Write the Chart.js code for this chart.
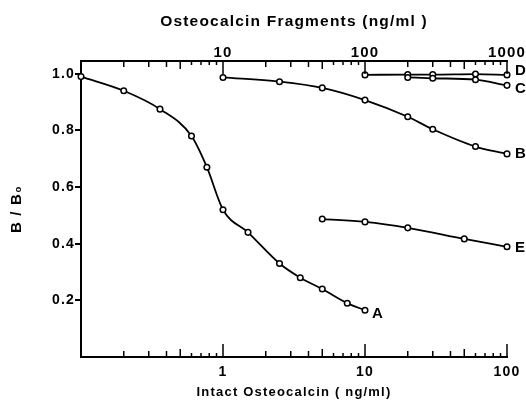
<!DOCTYPE html>
<html>
<head>
<meta charset="utf-8">
<script src="https://cdn.jsdelivr.net/npm/chart.js@4.4.1/dist/chart.umd.min.js"></script>
<style>
  html, body { margin: 0; padding: 0; background: #fff; }
</style>
</head>
<body>
<canvas id="grafico" width="526" height="408"></canvas>
<script>
// Curvas A e E: osteocalcina intacta (eixo inferior)
const doseA = [0.1, 0.2, 0.36, 0.6, 0.77, 1, 1.5, 2.5, 3.5, 5, 7.5, 10];
const valoresA = [0.99, 0.94, 0.875, 0.78, 0.67, 0.52, 0.44, 0.33, 0.28, 0.24, 0.19, 0.165];
const doseE = [5, 10, 20, 50, 100];
const valoresE = [0.487, 0.477, 0.456, 0.417, 0.389];

// Curvas B, C e D: fragmentos de osteocalcina (eixo superior)
const doseB = [10, 25, 50, 100, 200, 300, 600, 1000];
const valoresB = [0.987, 0.972, 0.95, 0.907, 0.848, 0.804, 0.743, 0.717];
const doseC = [200, 300, 600, 1000];
const valoresC = [0.987, 0.984, 0.979, 0.959];
const doseD = [100, 200, 300, 600, 1000];
const valoresD = [0.996, 0.997, 0.997, 0.999, 0.996];

const yMin = 0;
const yMax = 1.045;
const yPasso = 0.2;

const FONTE = "'Liberation Sans', Arial, sans-serif";

// Junta doses e valores em pontos {x, y}
function pontos(doses, valores) {
    return doses.map((x, i) => ({ x: x, y: valores[i] }));
}

function potenciaDeDez(v) {
    const l = Math.log10(v);
    return Math.abs(l - Math.round(l)) < 1e-9;
}

function serie(rotulo, doses, valores, eixo) {
    return {
        label: rotulo,
        data: pontos(doses, valores),
        xAxisID: eixo,
        borderColor: '#000',
        borderWidth: 1.8,
        cubicInterpolationMode: 'monotone',
        fill: false,
        clip: false,
        pointRadius: 2.8,
        pointBackgroundColor: '#fff',
        pointBorderColor: '#000',
        pointBorderWidth: 1.5
    };
}

// Marcas 1..9 de cada década (sem a borda esquerda)
function valoresMarcas(min, max) {
    const lista = [];
    for (let d = Math.round(Math.log10(min)); d <= Math.round(Math.log10(max)); d++) {
        for (let m = 1; m <= 9; m++) {
            const v = m * Math.pow(10, d);
            if (v > min * 1.001 && v < max * 1.001) lista.push({ v: v, m: m });
        }
    }
    return lista;
}

// Marcas para dentro do gráfico
function desenharMarcas(ctx, escala, y0, dir) {
    valoresMarcas(escala.min, escala.max).forEach(t => {
        const px = escala.getPixelForValue(t.v);
        const tam = t.m === 1 ? 13 : (t.m === 5 ? 8 : (t.m < 5 ? 6 : 4));
        ctx.beginPath();
        ctx.moveTo(px, y0);
        ctx.lineTo(px, y0 + dir * tam);
        ctx.stroke();
    });
}

// Letras no fim de cada curva
const deslocRotulo = { A: [7, 4], B: [8, 0], C: [8, 3], D: [8, -4], E: [8, 1.5] };

const extras = {
    id: 'extras',
    beforeDraw(chart) {
        // espaçamento entre letras, parecido com a figura original
        chart.ctx.letterSpacing = '1.2px';
    },
    afterDraw(chart) {
        const ctx = chart.ctx;
        ctx.save();
        ctx.fillStyle = '#000';
        ctx.font = 'bold 15px ' + FONTE;
        ctx.textAlign = 'left';
        ctx.textBaseline = 'middle';
        chart.data.datasets.forEach((ds, i) => {
            const meta = chart.getDatasetMeta(i);
            const ultimo = meta.data[meta.data.length - 1];
            const [dx, dy] = deslocRotulo[ds.label];
            ctx.fillText(ds.label, ultimo.x + dx, ultimo.y + dy);
        });
        ctx.restore();
    },
    afterRender(chart) {
        const ctx = chart.ctx;
        const area = chart.chartArea;
        ctx.save();
        ctx.globalAlpha = 1;
        ctx.globalCompositeOperation = 'source-over';
        ctx.strokeStyle = '#000';
        ctx.lineWidth = 1.5;
        desenharMarcas(ctx, chart.scales.x, area.bottom, -1);
        desenharMarcas(ctx, chart.scales.x2, area.top, 1);
        ctx.restore();
    }
};

Chart.defaults.font.family = FONTE;
Chart.defaults.font.weight = 'bold';
Chart.defaults.color = '#000';

const eixoLog = (posicao, min, max, titulo, tamTick, tamTitulo, padTick, padTitulo, altura) => ({
    type: 'logarithmic',
    position: posicao,
    min: min,
    max: max,
    ticks: {
        autoSkip: false,
        maxRotation: 0,
        padding: padTick,
        font: { size: tamTick, weight: 'bold' },
        callback: v => (potenciaDeDez(v) && v > min * 1.001) ? String(Math.round(v)) : ''
    },
    grid: { display: false, drawTicks: false },
    border: { display: true, color: '#000', width: 2 },
    title: {
        display: true,
        text: titulo,
        font: { size: tamTitulo, weight: 'bold' },
        padding: padTitulo
    },
    afterFit: s => { s.height = altura; }
});

new Chart(document.getElementById('grafico'), {
    type: 'line',
    data: {
        datasets: [
            serie('A', doseA, valoresA, 'x'),
            serie('E', doseE, valoresE, 'x'),
            serie('B', doseB, valoresB, 'x2'),
            serie('C', doseC, valoresC, 'x2'),
            serie('D', doseD, valoresD, 'x2')
        ]
    },
    options: {
        responsive: false,
        animation: false,
        layout: { padding: { left: 0, right: 19, top: 0, bottom: 0 } },
        plugins: {
            legend: { display: false },
            tooltip: { enabled: false }
        },
        scales: {
            x: eixoLog('bottom', 0.1, 100, 'Intact Osteocalcin ( ng/ml)', 14, 13, 7, { top: 0, bottom: 8 }, 51),
            x2: eixoLog('top', 1, 1000, 'Osteocalcin Fragments (ng/ml )', 15, 15.5, -1, { top: 12, bottom: 0 }, 61),
            y: {
                min: yMin,
                max: yMax,
                ticks: {
                    stepSize: yPasso,
                    includeBounds: false,
                    padding: 0,
                    font: { size: 14, weight: 'bold' },
                    callback: v => v === 0 ? '' : v.toFixed(1)
                },
                grid: {
                    drawOnChartArea: false,
                    drawTicks: true,
                    tickLength: 6,
                    lineWidth: 2,
                    color: c => (c.tick && c.tick.value === 0) ? 'rgba(0,0,0,0)' : '#000'
                },
                border: { display: true, color: '#000', width: 2 },
                title: {
                    display: true,
                    text: 'B / B₀',
                    font: { size: 15, weight: 'bold' },
                    padding: { top: 8, bottom: 0 }
                },
                afterFit: s => { s.width = 81; }
            }
        }
    },
    plugins: [extras]
});
</script>
</body>
</html>
